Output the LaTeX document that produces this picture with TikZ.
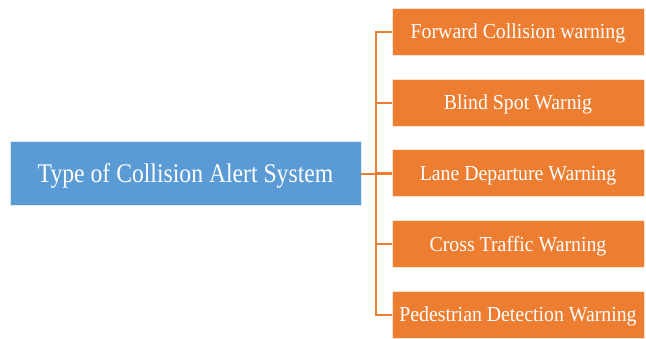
\documentclass[tikz,border=0pt]{standalone}
\usepackage{fontspec}
\setmainfont{Liberation Serif}
\newfontfamily\rootfont[FakeStretch=0.88]{Liberation Serif}
\newfontfamily\leaffont[FakeStretch=0.925]{Liberation Serif}
\definecolor{rootblue}{HTML}{5B9BD5}
\definecolor{leaforange}{HTML}{ED7D31}
\begin{document}
\begin{tikzpicture}[x=1bp,y=-1bp,
  rootbox/.style={fill=rootblue,draw=white!80!rootblue,line width=0.6bp,
    minimum width=351bp,minimum height=64bp,inner sep=0pt,text depth=0pt,
    text=white,font=\rootfont\fontsize{27}{30}\selectfont},
  leafbox/.style={fill=leaforange,draw=white!80!leaforange,line width=0.6bp,
    minimum width=252bp,minimum height=47bp,inner sep=0pt,text depth=0pt,
    text=white,font=\leaffont\fontsize{21.5}{24}\selectfont},
  link/.style={draw=leaforange,line width=2bp}]
\useasboundingbox (0,0) rectangle (646,338);
\node[rootbox] (root) at (185.5,173.5) {Type of Collision Alert System};
\node[leafbox] (l1) at (518,31.5) {Forward Collision warning};
\node[leafbox] (l2) at (518,102.5) {Blind Spot Warnig};
\node[leafbox] (l3) at (518,173) {Lane Departure Warning};
\node[leafbox] (l4) at (518,243.5) {Cross Traffic Warning};
\node[leafbox] (l5) at (518,314.5) {Pedestrian Detection Warning};
% vertical bus joining the five warning boxes
\coordinate (bus) at (376,0);
\draw[link] (l1.west) -- (l1.west -| bus) -- (l5.west -| bus) -- (l5.west);
\foreach \n in {l2,l3,l4} \draw[link] (\n.west) -- (\n.west -| bus);
\draw[link] (root.east) -- (root.east -| l3.west);
\end{tikzpicture}
\end{document}
